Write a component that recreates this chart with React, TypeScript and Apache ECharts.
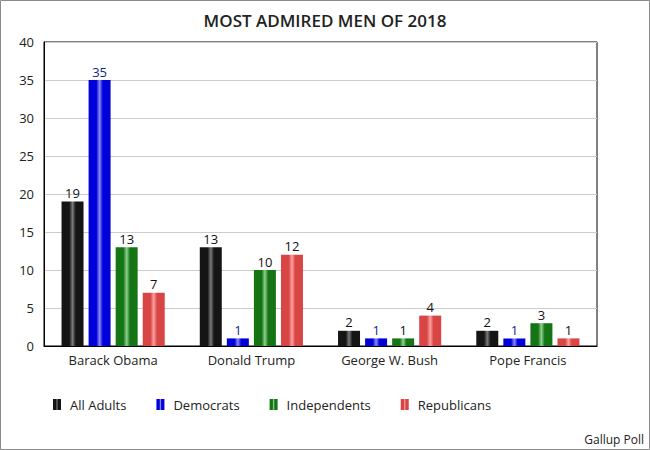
import React, { useEffect, useRef } from "react";
import * as echarts from "echarts";

const categories = ["Barack Obama", "Donald Trump", "George W. Bush", "Pope Francis"];
const seriesNames = ["All Adults", "Democrats", "Independents", "Republicans"];
const allAdults = [19, 13, 2, 2];
const democrats = [35, 1, 1, 1];
const independents = [13, 10, 1, 3];
const republicans = [7, 12, 4, 1];
const yTicks = { min: 0, max: 40, interval: 5 };

const palettes = [
  { edge: "#151515", mid: "#7a7a7a", label: "#111" },
  { edge: "#0000d8", mid: "#8a8aff", label: "#0a2a8a" },
  { edge: "#157515", mid: "#8fd08f", label: "#111" },
  { edge: "#d84545", mid: "#ffa0a0", label: "#111" },
];

function grad(p: { edge: string; mid: string }) {
  return new echarts.graphic.LinearGradient(0, 0, 1, 0, [
    { offset: 0, color: p.edge },
    { offset: 0.35, color: p.edge },
    { offset: 0.5, color: p.mid },
    { offset: 0.65, color: p.edge },
    { offset: 1, color: p.edge },
  ]);
}

export default function App() {
  const ref = useRef<HTMLDivElement>(null);
  useEffect(() => {
    if (!ref.current) return;
    const chart = echarts.init(ref.current, undefined, { renderer: "svg" });
    const data = [allAdults, democrats, independents, republicans];
    const font = "'Open Sans', 'Noto Sans', sans-serif";
    chart.setOption({
      animation: false,
      backgroundColor: "#fff",
      textStyle: { fontFamily: font },
      title: {
        text: "MOST ADMIRED MEN OF 2018",
        left: "center",
        top: 7,
        textStyle: { fontSize: 17, fontWeight: 600, color: "#222", fontFamily: font },
      },
      graphic: [
        {
          type: "rect",
          shape: { x: 0.5, y: 0.5, width: 649, height: 449 },
          style: { fill: "none", stroke: "#8a8a8a", lineWidth: 1 },
          silent: true,
        },
        {
          type: "text",
          right: 6,
          bottom: 5,
          style: { text: "Gallup Poll", fontSize: 12, fill: "#222", fontFamily: font },
        },
      ],
      legend: {
        data: seriesNames.map((n) => ({ name: n, icon: "rect" })),
        left: 53,
        top: 398,
        padding: 0,
        itemWidth: 8,
        itemHeight: 11,
        itemGap: 30,
        textStyle: { fontSize: 13, color: "#222", fontFamily: font, padding: [0, 0, 0, 4] },
      },
      grid: {
        left: 44,
        right: 53,
        top: 42,
        bottom: 104,
        show: true,
        borderColor: "#000",
        borderWidth: 1,
      },
      xAxis: {
        type: "category",
        data: categories,
        axisLine: { show: true, lineStyle: { color: "#000" } },
        axisTick: { show: false },
        axisLabel: { fontSize: 13, color: "#222", margin: 7, fontFamily: font },
      },
      yAxis: {
        type: "value",
        min: yTicks.min,
        max: yTicks.max,
        interval: yTicks.interval,
        axisLine: { show: true, lineStyle: { color: "#000" } },
        axisTick: { show: false },
        axisLabel: { fontSize: 13, color: "#222", margin: 10, fontFamily: font },
        splitLine: { lineStyle: { color: "#cccccc" } },
      },
      series: seriesNames.map((name, i) => ({
        name,
        type: "bar",
        data: data[i],
        barWidth: 22,
        barGap: "23%",
        itemStyle: { color: grad(palettes[i]) },
        label: {
          show: true,
          position: "top",
          distance: 2,
          fontSize: 13,
          color: palettes[i].label,
          fontFamily: font,
        },
      })),
    });
    return () => chart.dispose();
  }, []);
  return (
    <div
      ref={ref}
      style={{ position: "fixed", left: 0, top: 0, width: 650, height: 450 }}
    />
  );
}
